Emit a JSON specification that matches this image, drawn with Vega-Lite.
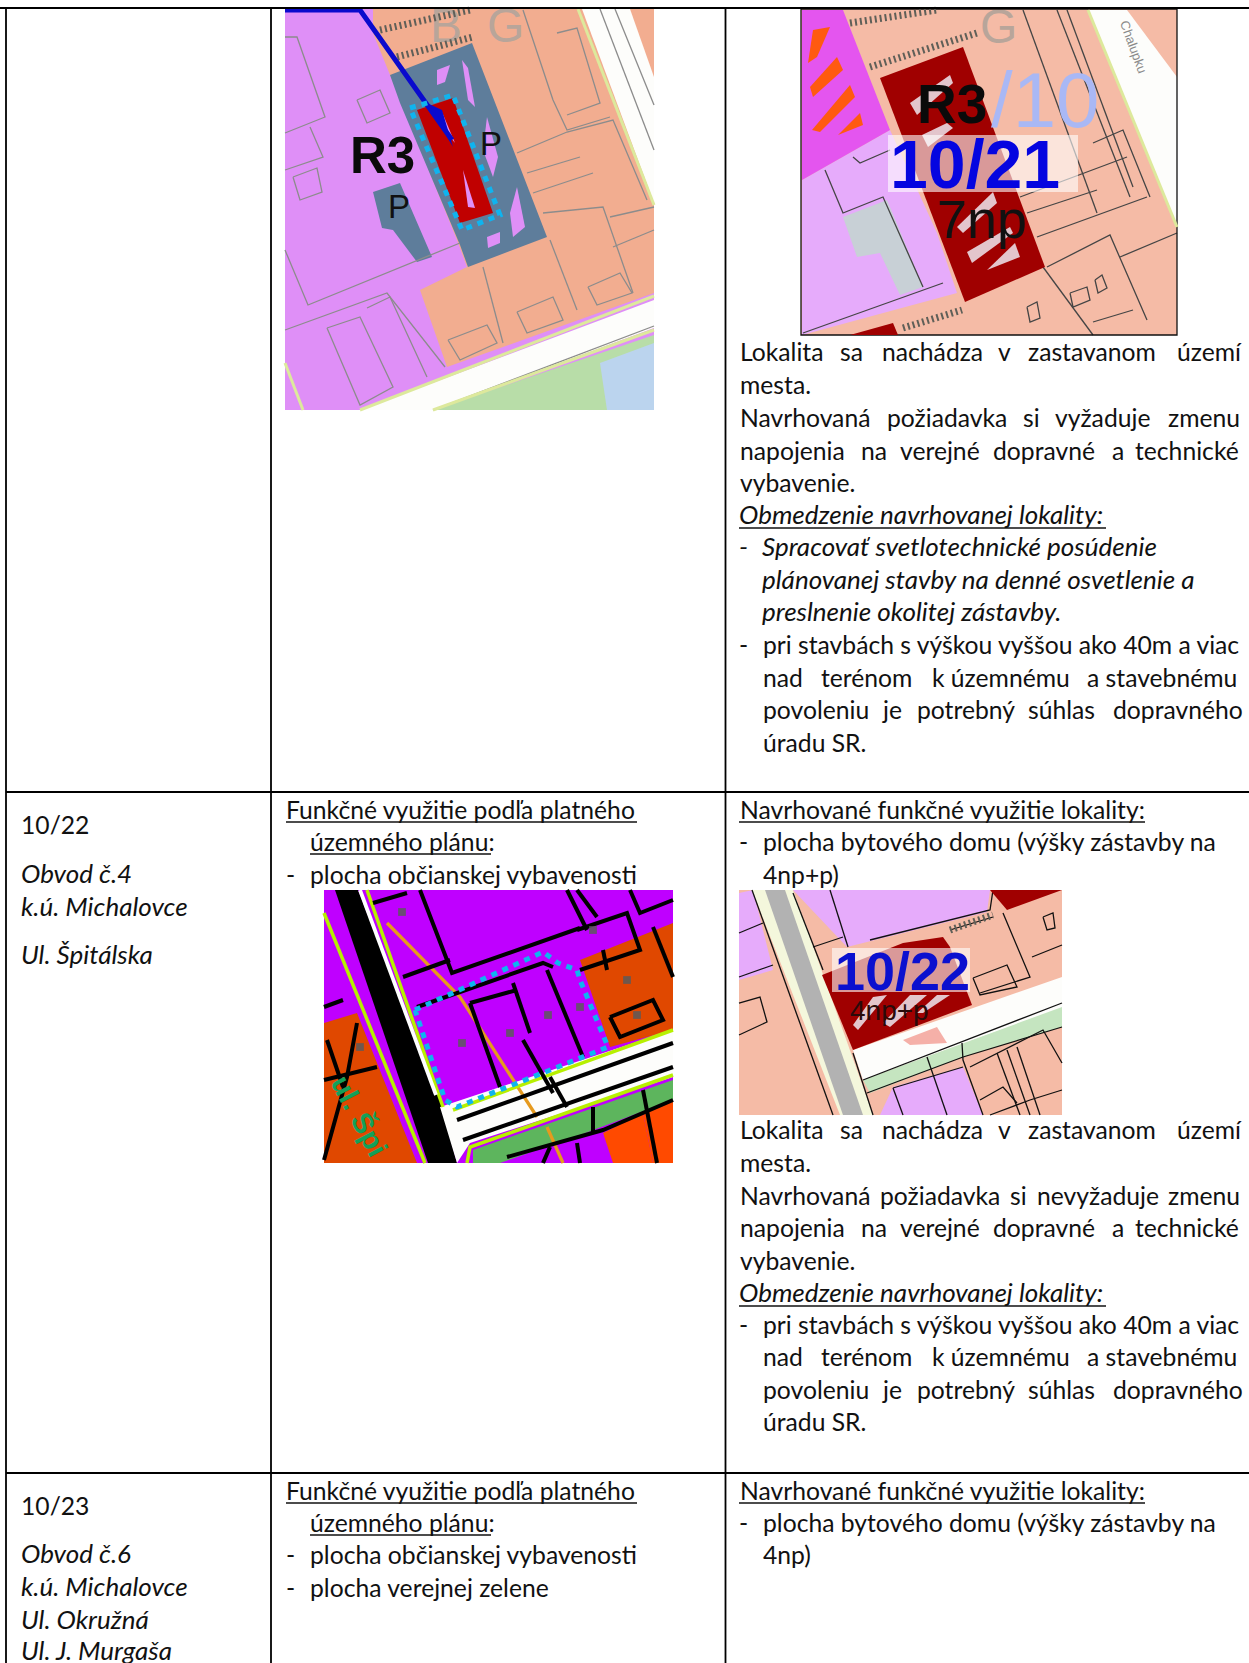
{"$schema":"https://vega.github.io/schema/vega-lite/v6.json","width":1249,"height":1663,"padding":0,"autosize":"none","background":"white","config":{"view":{"stroke":null}},"resolve":{"scale":{"color":"independent"}},
"datasets":{
"fills":[
{"id":"a01","z":0,"cls":"purple1","xs":[285,654,654,285],"ys":[9,9,410,410]},
{"id":"a02","z":0,"cls":"salmon1","xs":[373,654,654,447,420,467,457,373],"ys":[9,9,293,367,290,267,240,33]},
{"id":"a03","z":0,"cls":"white","xs":[582,630,654,654],"ys":[9,9,77,203]},
{"id":"a04","z":0,"cls":"white","xs":[360,654,654,433],"ys":[410,300,328,410]},
{"id":"a05","z":0,"cls":"green1","xs":[433,654,654],"ys":[410,335,410]},
{"id":"a06","z":0,"cls":"blue1","xs":[600,654,654,607],"ys":[363,343,410,410]},
{"id":"a07","z":0,"cls":"park","xs":[390,472,547,468,460,400],"ys":[75,43,237,267,245,103]},
{"id":"a08","z":0,"cls":"park","xs":[373,400,432,417,393,382],"ys":[192,183,257,262,230,228]},
{"id":"a09","z":0,"cls":"purple1","xs":[462,468,475,468],"ys":[60,68,107,100]},
{"id":"a10","z":0,"cls":"purple1","xs":[487,498,493,483],"ys":[117,157,177,150]},
{"id":"a11","z":0,"cls":"purple1","xs":[517,525,513,510],"ys":[187,227,237,213]},
{"id":"a12","z":0,"cls":"purple1","xs":[437,450,445,437],"ys":[70,65,82,85]},
{"id":"a13","z":0,"cls":"purple1","xs":[487,500,500,488],"ys":[237,232,243,248]},
{"id":"a14","z":0,"cls":"red1","xs":[417,453,493,460],"ys":[110,98,213,223]},
{"id":"a15","z":0,"cls":"purple1","xs":[442,455,445],"ys":[112,143,130]},
{"id":"a16","z":0,"cls":"purple1","xs":[463,475,468],"ys":[170,208,207]},
{"id":"a17","z":0,"cls":"blue2","xs":[427,442,453],"ys":[103,110,147]},
{"id":"b01","z":0,"cls":"salmon2","xs":[801,1177,1177,801],"ys":[9,9,335,335]},
{"id":"b02","z":0,"cls":"pink2","xs":[802,890,937,957,802],"ys":[180,130,233,293,335]},
{"id":"b03","z":0,"cls":"magenta","xs":[802,843,890,802],"ys":[10,10,130,180]},
{"id":"b04","z":0,"cls":"orange2","xs":[813,830,817,808],"ys":[30,27,57,63]},
{"id":"b05","z":0,"cls":"orange2","xs":[810,837,843,813],"ys":[87,57,70,97]},
{"id":"b06","z":0,"cls":"orange2","xs":[812,850,855,820],"ys":[130,85,97,132]},
{"id":"b07","z":0,"cls":"orange2","xs":[838,860,863],"ys":[135,113,125]},
{"id":"b08","z":0,"cls":"grey2","xs":[843,887,923,900,880,857],"ys":[217,200,287,295,253,257]},
{"id":"b09","z":0,"cls":"white","xs":[1088,1127,1177,1177],"ys":[10,10,77,227]},
{"id":"b10","z":1,"cls":"red2","xs":[880,963,1045,965],"ys":[78,47,267,302]},
{"id":"b11","z":1,"cls":"pale","xs":[910,950,953,917],"ys":[103,75,83,115]},
{"id":"b12","z":1,"cls":"pale","xs":[922,947,953,928],"ys":[135,123,128,147]},
{"id":"b13","z":1,"cls":"pale","xs":[957,993,997,963],"ys":[227,192,203,233]},
{"id":"b14","z":1,"cls":"pale","xs":[967,1010,1013,972],"ys":[252,227,233,263]},
{"id":"b15","z":1,"cls":"pale","xs":[987,1015,1020],"ys":[270,243,257]},
{"id":"b16","z":1,"cls":"red2","xs":[850,893,898],"ys":[335,323,335]},
{"id":"b17","z":1,"cls":"veil","xs":[888,1078,1078,888],"ys":[135,135,192,192]},
{"id":"c01","z":0,"cls":"purple3","xs":[324,673,673,324],"ys":[890,890,1163,1163]},
{"id":"c02","z":0,"cls":"orange3","xs":[580,673,673,610],"ys":[960,923,1030,1047]},
{"id":"c03","z":0,"cls":"orange3","xs":[324,357,417,324],"ys":[1023,1013,1163,1163]},
{"id":"c04","z":0,"cls":"black","xs":[335,358,440,457,428],"ys":[890,890,1100,1163,1163]},
{"id":"c05","z":0,"cls":"white","xs":[440,673,673,470,457],"ys":[1107,1030,1077,1143,1163]},
{"id":"c06","z":0,"cls":"green3","xs":[473,473,673,673,580,500],"ys":[1163,1150,1080,1100,1135,1163]},
{"id":"c07","z":0,"cls":"orange4","xs":[603,643,653,613],"ys":[1133,1113,1163,1163]},
{"id":"c08","z":0,"cls":"purple3","xs":[507,543,603,610],"ys":[1163,1147,1133,1163]},
{"id":"c09","z":0,"cls":"orange4","xs":[643,673,673,653],"ys":[1113,1100,1163,1163]},
{"id":"d01","z":0,"cls":"salmon2","xs":[739,1062,1062,739],"ys":[890,890,1115,1115]},
{"id":"d02","z":0,"cls":"pink2","xs":[793,990,987,847],"ys":[890,890,912,947]},
{"id":"d03","z":0,"cls":"pink2","xs":[739,753,773,739],"ys":[893,890,970,980]},
{"id":"d04","z":0,"cls":"pink2","xs":[893,963,983,880],"ys":[1087,1067,1115,1115]},
{"id":"d05","z":0,"cls":"yellow4","xs":[752,793,873,840],"ys":[890,890,1115,1115]},
{"id":"d06","z":0,"cls":"grey4","xs":[765,785,863,843],"ys":[890,890,1115,1115]},
{"id":"d07","z":0,"cls":"white","xs":[853,1062,1062,863],"ys":[1050,977,1008,1080]},
{"id":"d08","z":0,"cls":"green4","xs":[863,1062,1062,963,870],"ys":[1080,1007,1027,1057,1093]},
{"id":"d09","z":1,"cls":"red2","xs":[990,1062,1007],"ys":[890,890,910]},
{"id":"d10","z":1,"cls":"red2","xs":[822,903,943,950,972,853],"ys":[975,943,937,947,1005,1050]},
{"id":"d11","z":1,"cls":"pale","xs":[853,873,887,858],"ys":[1025,997,995,1030]},
{"id":"d12","z":1,"cls":"pale","xs":[883,910,927,890],"ys":[1023,995,995,1027]},
{"id":"d13","z":1,"cls":"pale","xs":[917,937,950,923],"ys":[1013,995,995,1013]},
{"id":"d14","z":1,"cls":"veil","xs":[832,970,970,832],"ys":[948,948,992,992]},
{"id":"d15","z":1,"cls":"blob","xs":[903,937,947,910],"ys":[1040,1027,1043,1045]}
],
"thin":[
{"id":"e01","cls":"gline","xs":[285,297,325,285],"ys":[37,37,117,133]},
{"id":"e02","cls":"gline","xs":[310,323,285],"ys":[127,157,170]},
{"id":"e03","cls":"gline","xs":[357,380,390,367,357],"ys":[100,90,113,123,100]},
{"id":"e04","cls":"gline","xs":[293,317,322,300,293],"ys":[177,168,192,200,177]},
{"id":"e05","cls":"gline","xs":[285,308,460],"ys":[250,305,243]},
{"id":"e06","cls":"gline","xs":[285,387,445],"ys":[330,293,367]},
{"id":"e07","cls":"gline","xs":[327,360,393,360,327],"ys":[328,317,387,405,328]},
{"id":"e08","cls":"gline","xs":[367,390,427],"ys":[308,297,377]},
{"id":"e09","cls":"gline","xs":[523,553,567,610],"ys":[10,100,130,117]},
{"id":"e10","cls":"gline","xs":[557,577,600,567],"ys":[33,28,103,115]},
{"id":"e11","cls":"gline","xs":[517,567,613,647],"ys":[153,132,120,200]},
{"id":"e12","cls":"gline","xs":[527,580],"ys":[173,157]},
{"id":"e13","cls":"gline","xs":[533,593],"ys":[193,173]},
{"id":"e14","cls":"gline","xs":[543,603,633],"ys":[213,207,293]},
{"id":"e15","cls":"gline","xs":[610,654],"ys":[217,207]},
{"id":"e16","cls":"gline","xs":[613,654],"ys":[247,230]},
{"id":"e17","cls":"gline","xs":[483,503],"ys":[267,343]},
{"id":"e18","cls":"gline","xs":[550,577],"ys":[240,310]},
{"id":"e19","cls":"gline","xs":[517,553,563,527,517],"ys":[312,297,320,333,312]},
{"id":"e20","cls":"gline","xs":[448,487,497,460,448],"ys":[340,325,343,360,340]},
{"id":"e21","cls":"gline","xs":[588,620,632,597,588],"ys":[287,273,293,305,287]},
{"id":"e22","cls":"gline","xs":[600,654],"ys":[9,150]},
{"id":"e23","cls":"gline","xs":[615,654],"ys":[9,105]},
{"id":"e24","cls":"gline","xs":[433,654],"ys":[410,326]},
{"id":"f01","cls":"dline","xs":[1023,1097],"ys":[10,213]},
{"id":"f02","cls":"dline","xs":[1057,1130],"ys":[10,197]},
{"id":"f03","cls":"dline","xs":[1067,1133],"ys":[10,187]},
{"id":"f04","cls":"dline","xs":[1093,1123,1150],"ys":[143,130,197]},
{"id":"f05","cls":"dline","xs":[1020,1127],"ys":[197,157]},
{"id":"f06","cls":"dline","xs":[1027,1097],"ys":[213,190]},
{"id":"f07","cls":"dline","xs":[1037,1147],"ys":[237,197]},
{"id":"f08","cls":"dline","xs":[1047,1110,1147],"ys":[267,235,320]},
{"id":"f09","cls":"dline","xs":[1043,1093],"ys":[267,335]},
{"id":"f10","cls":"dline","xs":[1120,1177],"ys":[257,233]},
{"id":"f11","cls":"dline","xs":[1093,1133],"ys":[322,310]},
{"id":"f12","cls":"dline","xs":[1070,1087,1090,1073,1070],"ys":[293,287,300,307,293]},
{"id":"f13","cls":"dline","xs":[1095,1102,1107,1098,1095],"ys":[280,275,288,293,280]},
{"id":"f14","cls":"dline","xs":[1027,1037,1040,1030,1027],"ys":[307,302,318,322,307]},
{"id":"f15","cls":"dline","xs":[825,843,883,923],"ys":[170,213,197,287]},
{"id":"f16","cls":"dline","xs":[943,803],"ys":[283,333]},
{"id":"f17","cls":"dline","xs":[853,860,890],"ys":[157,163,150]},
{"id":"f18","cls":"kline","xs":[801,1177,1177,801,801],"ys":[9,9,335,335,9]},
{"id":"g01","cls":"kline","xs":[793,823],"ys":[893,970]},
{"id":"g02","cls":"kline","xs":[813,843],"ys":[947,937]},
{"id":"g03","cls":"kline","xs":[830,848],"ys":[890,947]},
{"id":"g04","cls":"kline","xs":[870,990,993],"ys":[940,910,890]},
{"id":"g05","cls":"kline","xs":[950,993],"ys":[930,917]},
{"id":"g06","cls":"kline","xs":[1003,1030,980],"ys":[913,977,993]},
{"id":"g07","cls":"kline","xs":[973,1007,1017,980,973],"ys":[978,965,987,995,978]},
{"id":"g08","cls":"kline","xs":[1032,1062],"ys":[957,945]},
{"id":"g09","cls":"kline","xs":[1043,1053,1055,1047,1043],"ys":[917,913,928,930,917]},
{"id":"g10","cls":"kline","xs":[739,773],"ys":[977,965]},
{"id":"g11","cls":"kline","xs":[739,763],"ys":[933,923]},
{"id":"g12","cls":"kline","xs":[739,760,767,739],"ys":[1003,997,1022,1035]},
{"id":"g13","cls":"kline","xs":[752,833],"ys":[890,1115]},
{"id":"g14","cls":"kline","xs":[853,873],"ys":[1053,1115]},
{"id":"g15","cls":"kline","xs":[863,1062],"ys":[1080,1003]},
{"id":"g16","cls":"kline","xs":[867,963,1062],"ys":[1093,1057,1027]},
{"id":"g17","cls":"kline","xs":[962,963,983],"ys":[1043,1060,1115]},
{"id":"g18","cls":"kline","xs":[927,947],"ys":[1057,1115]},
{"id":"g19","cls":"kline","xs":[893,963],"ys":[1088,1067]},
{"id":"g20","cls":"kline","xs":[893,903],"ys":[1088,1115]},
{"id":"g21","cls":"kline","xs":[997,1020],"ys":[1053,1115]},
{"id":"g22","cls":"kline","xs":[1007,1030],"ys":[1050,1115]},
{"id":"g23","cls":"kline","xs":[1017,1040],"ys":[1047,1115]},
{"id":"g24","cls":"kline","xs":[970,1043,1062],"ys":[1067,1030,1063]},
{"id":"g25","cls":"kline","xs":[980,1003,1017],"ys":[1100,1087,1103]},
{"id":"g26","cls":"kline","xs":[990,1030,1062],"ys":[1115,1100,1090]}
],
"fence":[
{"id":"h06","xs":[380,470],"ys":[30,10]},
{"id":"h07","xs":[397,473],"ys":[57,37]},
{"id":"h08","xs":[850,937],"ys":[23,10]},
{"id":"h09","xs":[870,977],"ys":[67,33]},
{"id":"h10","xs":[903,962],"ys":[328,310]},
{"id":"h11","xs":[950,993],"ys":[930,915]}
],
"thick":[
{"id":"h01","cls":"yl1","xs":[578,654],"ys":[9,205]},
{"id":"h02","cls":"yl1","xs":[360,654],"ys":[410,296]},
{"id":"h03","cls":"yl1","xs":[433,654],"ys":[410,330]},
{"id":"h04","cls":"yl1","xs":[285,303],"ys":[363,410]},
{"id":"h05","cls":"yl1","xs":[1088,1177],"ys":[10,227]},
{"id":"i00","cls":"gold","xs":[387,460,537],"ys":[923,997,1117]},
{"id":"i00b","cls":"gold","xs":[547,563],"ys":[1127,1163]},
{"id":"i01","cls":"lime","xs":[324,425],"ys":[913,1163]},
{"id":"i02","cls":"lime","xs":[367,443],"ys":[890,1107]},
{"id":"i03","cls":"whl","xs":[360,436],"ys":[890,1095]},
{"id":"i04","cls":"lime","xs":[467,470,673],"ys":[1163,1147,1075]},
{"id":"i05","cls":"lime","xs":[453,673],"ys":[1110,1030]},
{"id":"j01","cls":"bk","xs":[420,452,580],"ys":[890,973,928]},
{"id":"j02","cls":"bk","xs":[373,407],"ys":[903,893]},
{"id":"j03","cls":"bk","xs":[403,450],"ys":[977,960]},
{"id":"j04","cls":"bk","xs":[417,543,553],"ys":[1007,963,967]},
{"id":"j05","cls":"bk","xs":[470,517],"ys":[1003,990]},
{"id":"j06","cls":"bk","xs":[470,500],"ys":[1003,1087]},
{"id":"j07","cls":"bk","xs":[513,530],"ys":[983,1033]},
{"id":"j08","cls":"bk","xs":[547,583],"ys":[970,1057]},
{"id":"j09","cls":"bk","xs":[523,553],"ys":[1040,1093]},
{"id":"j10","cls":"bk","xs":[577,597],"ys":[890,917]},
{"id":"j11","cls":"bk","xs":[630,640,673],"ys":[890,913,900]},
{"id":"j12","cls":"bk","xs":[567,587],"ys":[890,930]},
{"id":"j13","cls":"bk","xs":[577,627,640,580],"ys":[930,913,950,970]},
{"id":"j14","cls":"bk","xs":[603,607],"ys":[950,970]},
{"id":"j15","cls":"bk","xs":[653,673],"ys":[927,977]},
{"id":"j16","cls":"bk","xs":[610,653,663,620,610],"ys":[1017,1000,1020,1037,1017]},
{"id":"j17","cls":"bk","xs":[324,343],"ys":[1007,1000]},
{"id":"j18","cls":"bk","xs":[324,377],"ys":[1080,1067]},
{"id":"j19","cls":"bk","xs":[327,343],"ys":[1040,1087]},
{"id":"j20","cls":"bk","xs":[357,347,324],"ys":[1023,1077,1160]},
{"id":"j21","cls":"bk","xs":[457,673],"ys":[1120,1043]},
{"id":"j22","cls":"bk","xs":[463,673],"ys":[1140,1067]},
{"id":"j23","cls":"bk","xs":[550,567],"ys":[1077,1107]},
{"id":"j24","cls":"bk","xs":[507,603,673],"ys":[1157,1130,1100]},
{"id":"j25","cls":"bk","xs":[543,550],"ys":[1163,1147]},
{"id":"j26","cls":"bk","xs":[580,577],"ys":[1163,1143]},
{"id":"j27","cls":"bk","xs":[593,593],"ys":[1107,1133]},
{"id":"j28","cls":"bk","xs":[643,657],"ys":[1090,1163]}
],
"dotted":[
{"id":"k01","xs":[410,453,500,462,410],"ys":[108,95,215,230,108]},
{"id":"k02","xs":[415,543,558,577,580,608,457,445,415],"ys":[1010,952,963,970,980,1047,1107,1100,1010]}
],
"arrow":[{"id":"m01","xs":[285,360,452],"ys":[10,10,140]}],
"dots":[{"x":402,"y":912},{"x":593,"y":930},{"x":627,"y":980},{"x":462,"y":1043},{"x":510,"y":1033},{"x":548,"y":1015},{"x":580,"y":1007},{"x":637,"y":1015},{"x":360,"y":1047}],
"grid":[
{"x":0,"x2":1249,"y":8,"y2":8},{"x":6,"x2":1249,"y":792,"y2":792},{"x":6,"x2":1249,"y":1473,"y2":1473},
{"x":6,"x2":6,"y":8,"y2":1663},{"x":271,"x2":271,"y":8,"y2":1663},{"x":725.5,"x2":725.5,"y":8,"y2":1663}],
"under":[
{"x":739,"x2":1106,"y":528},{"x":286,"x2":637,"y":822},{"x":310,"x2":491,"y":854},{"x":739,"x2":1145,"y":822},
{"x":739,"x2":1106,"y":1306},{"x":286,"x2":637,"y":1503},{"x":310,"x2":491,"y":1535},{"x":739,"x2":1145,"y":1503}],
"body":[
{"x":740,"y":361,"t":"Lokalita"},{"x":840,"y":361,"t":"sa"},{"x":882,"y":361,"t":"nachádza"},{"x":998,"y":361,"t":"v"},{"x":1028,"y":361,"t":"zastavanom"},{"x":1177,"y":361,"t":"území"},
{"x":740,"y":394,"t":"mesta."},
{"x":740,"y":427,"t":"Navrhovaná"},{"x":887,"y":427,"t":"požiadavka"},{"x":1023,"y":427,"t":"si"},{"x":1055,"y":427,"t":"vyžaduje"},{"x":1168,"y":427,"t":"zmenu"},
{"x":740,"y":460,"t":"napojenia"},{"x":861,"y":460,"t":"na"},{"x":900,"y":460,"t":"verejné"},{"x":993,"y":460,"t":"dopravné"},{"x":1112,"y":460,"t":"a"},{"x":1135,"y":460,"t":"technické"},
{"x":740,"y":492,"t":"vybavenie."},
{"x":739,"y":654,"t":"-"},{"x":763,"y":654,"t":"pri stavbách s výškou vyššou ako 40m a viac"},
{"x":763,"y":687,"t":"nad"},{"x":821,"y":687,"t":"terénom"},{"x":932,"y":687,"t":"k územnému"},{"x":1087,"y":687,"t":"a stavebnému"},
{"x":763,"y":719,"t":"povoleniu"},{"x":883,"y":719,"t":"je"},{"x":917,"y":719,"t":"potrebný"},{"x":1028,"y":719,"t":"súhlas"},{"x":1113,"y":719,"t":"dopravného"},
{"x":763,"y":752,"t":"úradu SR."},
{"x":21,"y":834,"t":"10/22"},
{"x":286,"y":819,"t":"Funkčné využitie podľa platného"},
{"x":310,"y":851,"t":"územného plánu:"},
{"x":286,"y":884,"t":"-"},{"x":310,"y":884,"t":"plocha občianskej vybavenosti"},
{"x":740,"y":819,"t":"Navrhované funkčné využitie lokality:"},
{"x":739,"y":851,"t":"-"},{"x":763,"y":851,"t":"plocha bytového domu (výšky zástavby na"},
{"x":763,"y":884,"t":"4np+p)"},
{"x":740,"y":1139,"t":"Lokalita"},{"x":840,"y":1139,"t":"sa"},{"x":882,"y":1139,"t":"nachádza"},{"x":998,"y":1139,"t":"v"},{"x":1028,"y":1139,"t":"zastavanom"},{"x":1177,"y":1139,"t":"území"},
{"x":740,"y":1172,"t":"mesta."},
{"x":740,"y":1205,"t":"Navrhovaná"},{"x":880,"y":1205,"t":"požiadavka"},{"x":1010,"y":1205,"t":"si"},{"x":1037,"y":1205,"t":"nevyžaduje"},{"x":1168,"y":1205,"t":"zmenu"},
{"x":740,"y":1237,"t":"napojenia"},{"x":861,"y":1237,"t":"na"},{"x":900,"y":1237,"t":"verejné"},{"x":993,"y":1237,"t":"dopravné"},{"x":1112,"y":1237,"t":"a"},{"x":1135,"y":1237,"t":"technické"},
{"x":740,"y":1270,"t":"vybavenie."},
{"x":739,"y":1334,"t":"-"},{"x":763,"y":1334,"t":"pri stavbách s výškou vyššou ako 40m a viac"},
{"x":763,"y":1366,"t":"nad"},{"x":821,"y":1366,"t":"terénom"},{"x":932,"y":1366,"t":"k územnému"},{"x":1087,"y":1366,"t":"a stavebnému"},
{"x":763,"y":1399,"t":"povoleniu"},{"x":883,"y":1399,"t":"je"},{"x":917,"y":1399,"t":"potrebný"},{"x":1028,"y":1399,"t":"súhlas"},{"x":1113,"y":1399,"t":"dopravného"},
{"x":763,"y":1431,"t":"úradu SR."},
{"x":21,"y":1515,"t":"10/23"},
{"x":286,"y":1500,"t":"Funkčné využitie podľa platného"},
{"x":310,"y":1532,"t":"územného plánu:"},
{"x":286,"y":1564,"t":"-"},{"x":310,"y":1564,"t":"plocha občianskej vybavenosti"},
{"x":286,"y":1597,"t":"-"},{"x":310,"y":1597,"t":"plocha verejnej zelene"},
{"x":740,"y":1500,"t":"Navrhované funkčné využitie lokality:"},
{"x":739,"y":1532,"t":"-"},{"x":763,"y":1532,"t":"plocha bytového domu (výšky zástavby na"},
{"x":763,"y":1564,"t":"4np)"}
],
"ital":[
{"x":739,"y":524,"t":"Obmedzenie navrhovanej lokality:"},
{"x":739,"y":556,"t":"-"},{"x":762,"y":556,"t":"Spracovať svetlotechnické posúdenie"},
{"x":762,"y":589,"t":"plánovanej stavby na denné osvetlenie a"},
{"x":762,"y":621,"t":"preslnenie okolitej zástavby."},
{"x":21,"y":883,"t":"Obvod č.4"},{"x":21,"y":916,"t":"k.ú. Michalovce"},{"x":21,"y":964,"t":"Ul. Špitálska"},
{"x":739,"y":1302,"t":"Obmedzenie navrhovanej lokality:"},
{"x":21,"y":1563,"t":"Obvod č.6"},{"x":21,"y":1596,"t":"k.ú. Michalovce"},{"x":21,"y":1629,"t":"Ul. Okružná"},{"x":21,"y":1660,"t":"Ul. J. Murgaša"}
]
},
"encoding":{
"x":{"field":"x","type":"quantitative","scale":{"domain":[0,1249],"nice":false,"zero":false},"axis":null},
"y":{"field":"y","type":"quantitative","scale":{"domain":[0,1663],"nice":false,"zero":false,"reverse":true},"axis":null}
},
"layer":[
{"data":{"name":"fills"},"transform":[{"filter":"datum.z==0"},{"flatten":["xs","ys"],"as":["x","y"]}],
"mark":{"type":"line","filled":true,"strokeWidth":0},
"encoding":{"detail":{"field":"id"},"order":{"value":null},"color":{"field":"cls","type":"nominal","legend":null,"scale":{"domain":["purple1","salmon1","white","green1","blue1","park","red1","blue2","salmon2","pink2","magenta","orange2","grey2","purple3","orange3","black","green3","orange4","yellow4","grey4","green4"],"range":["#DF8FF7","#F2AD90","#FDFDFB","#B8DDA8","#BBD4EE","#5E7D9B","#C00000","#0A0ACD","#F5BBA6","#E6ABFB","#E455EF","#FF5A10","#C8D0D6","#BF00FF","#E04800","#000000","#5DB55D","#FF4A00","#F4F7DC","#B2B2B2","#C5E5C0"]}}}},
{"data":{"values":[{"x":430,"y":42,"t":"B"},{"x":487,"y":42,"t":"G"},{"x":980,"y":43,"t":"G"}]},"mark":{"type":"text","align":"left","baseline":"alphabetic","font":"Liberation Sans","fontSize":48,"color":"#B8A59A"},"encoding":{"text":{"field":"t"}}},
{"data":{"name":"thin"},"transform":[{"flatten":["xs","ys"],"as":["x","y"]}],
"mark":{"type":"line","strokeWidth":1.3},
"encoding":{"detail":{"field":"id"},"order":{"value":null},"color":{"field":"cls","type":"nominal","legend":null,"scale":{"domain":["gline","dline","kline"],"range":["#8C8C8C","#454545","#111111"]}}}},
{"data":{"name":"fence"},"transform":[{"flatten":["xs","ys"],"as":["x","y"]}],
"mark":{"type":"line","strokeWidth":7,"strokeDash":[2,3],"color":"#5F5F58"},"encoding":{"detail":{"field":"id"},"order":{"value":null}}},
{"data":{"name":"fills"},"transform":[{"filter":"datum.z==1"},{"flatten":["xs","ys"],"as":["x","y"]}],
"mark":{"type":"line","filled":true,"strokeWidth":0},
"encoding":{"detail":{"field":"id"},"order":{"value":null},"color":{"field":"cls","type":"nominal","legend":null,"scale":{"domain":["red2","pale","veil","blob"],"range":["#A00000","#E3C5CC","rgba(255,255,255,0.6)","#F5B0A8"]}}}},
{"data":{"name":"thick"},"transform":[{"flatten":["xs","ys"],"as":["x","y"]}],
"mark":{"type":"line"},
"encoding":{"detail":{"field":"id"},"order":{"value":null},
"strokeWidth":{"field":"cls","type":"nominal","legend":null,"scale":{"domain":["yl1","gold","lime","whl","bk"],"range":[3,4,7,2,4.5]}},
"color":{"field":"cls","type":"nominal","legend":null,"scale":{"domain":["yl1","gold","lime","whl","bk"],"range":["#DDE99C","#E69A1E","#B7F000","#FFFFFF","#000000"]}}}},
{"data":{"name":"dots"},"mark":{"type":"square","size":60,"color":"#5A5A5A","opacity":0.85}},
{"data":{"name":"arrow"},"transform":[{"flatten":["xs","ys"],"as":["x","y"]}],
"mark":{"type":"line","strokeWidth":5,"color":"#0A0ACD"},"encoding":{"order":{"value":null}}},
{"data":{"name":"dotted"},"transform":[{"flatten":["xs","ys"],"as":["x","y"]}],
"mark":{"type":"line","strokeWidth":5,"color":"#0FB4EF","strokeDash":[6,6]},"encoding":{"detail":{"field":"id"},"order":{"value":null}}},
{"data":{"values":[{"x":350,"y":173,"t":"R3"}]},"mark":{"type":"text","align":"left","baseline":"alphabetic","font":"Liberation Sans","fontWeight":"bold","fontSize":51,"color":"#0A0A0A"},"encoding":{"text":{"field":"t"}}},
{"data":{"values":[{"x":917,"y":123,"t":"R3"}]},"mark":{"type":"text","align":"left","baseline":"alphabetic","font":"Liberation Sans","fontWeight":"bold","fontSize":55,"color":"#0A0A0A"},"encoding":{"text":{"field":"t"}}},
{"data":{"values":[{"x":480,"y":155,"t":"P"},{"x":388,"y":218,"t":"P"}]},"mark":{"type":"text","align":"left","baseline":"alphabetic","font":"Liberation Sans","fontSize":33,"color":"#111111"},"encoding":{"text":{"field":"t"}}},
{"data":{"values":[{"x":890,"y":188,"t":"10/21"}]},"mark":{"type":"text","align":"left","baseline":"alphabetic","font":"Liberation Sans","fontWeight":"bold","fontSize":68,"color":"#0505E0"},"encoding":{"text":{"field":"t"}}},
{"data":{"values":[{"x":937,"y":238,"t":"7np"}]},"mark":{"type":"text","align":"left","baseline":"alphabetic","font":"Liberation Sans","fontSize":54,"color":"#111111"},"encoding":{"text":{"field":"t"}}},
{"data":{"values":[{"x":991,"y":127,"t":"/10"}]},"mark":{"type":"text","align":"left","baseline":"alphabetic","font":"Liberation Sans","fontSize":78,"color":"#A9B8F5"},"encoding":{"text":{"field":"t"}}},
{"data":{"values":[{"x":1133,"y":47,"t":"Chalupku"}]},"mark":{"type":"text","align":"center","baseline":"middle","font":"Liberation Sans","fontSize":13,"angle":70,"color":"#8A8A8A"},"encoding":{"text":{"field":"t"}}},
{"data":{"values":[{"x":835,"y":990,"t":"10/22"}]},"mark":{"type":"text","align":"left","baseline":"alphabetic","font":"Liberation Sans","fontWeight":"bold","fontSize":54,"color":"#0B10CF"},"encoding":{"text":{"field":"t"}}},
{"data":{"values":[{"x":850,"y":1020,"t":"4np+p"}]},"mark":{"type":"text","align":"left","baseline":"alphabetic","font":"Liberation Sans","fontSize":28,"color":"#2A0A0A"},"encoding":{"text":{"field":"t"}}},
{"data":{"values":[{"x":338,"y":1078,"t":"ul. Špi"}]},"mark":{"type":"text","align":"left","baseline":"middle","font":"Liberation Sans","fontWeight":"bold","fontSize":29,"angle":62,"color":"#13A05A"},"encoding":{"text":{"field":"t"}}},
{"data":{"name":"grid"},"mark":{"type":"rule","strokeWidth":1.8,"color":"#000000"},"encoding":{"x2":{"field":"x2"},"y2":{"field":"y2"}}},
{"data":{"name":"under"},"mark":{"type":"rule","strokeWidth":1.3,"color":"#111111"},"encoding":{"x2":{"field":"x2"}}},
{"data":{"name":"body"},"mark":{"type":"text","align":"left","baseline":"alphabetic","font":"Lato","fontSize":24.7,"color":"#111111"},"encoding":{"text":{"field":"t"}}},
{"data":{"name":"ital"},"mark":{"type":"text","align":"left","baseline":"alphabetic","font":"Lato","fontStyle":"italic","fontSize":26,"color":"#111111"},"encoding":{"text":{"field":"t"}}}
]}
